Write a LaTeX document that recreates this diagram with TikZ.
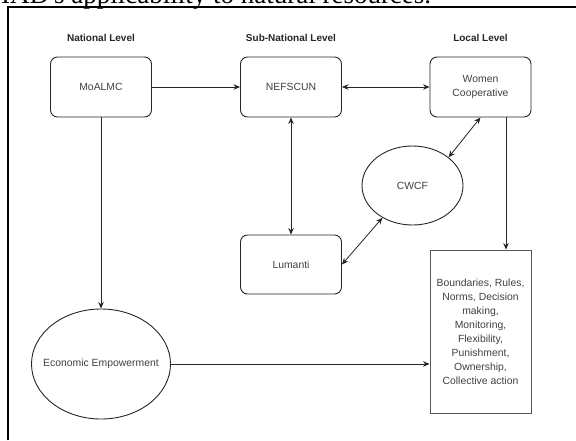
\documentclass[tikz,border=0pt]{standalone}
\usepackage{fontspec}
\setmainfont{Liberation Sans}
\newfontfamily\captionserif{Liberation Serif}
\usetikzlibrary{arrows.meta,shapes.geometric,positioning}

\tikzset{
  lvl/.style={font=\bfseries\fontsize{10}{12}\selectfont, text=black!85},
  rbox/.style={draw=black!85, rounded corners=7pt, minimum width=101pt, minimum height=60pt, inner sep=2pt, align=center, line width=0.9pt},
  oval/.style={draw=black!85, ellipse, inner sep=0pt, line width=0.9pt},
  conn/.style={line width=0.8pt, draw=black!85, -{Stealth[length=6.5pt,width=5.5pt]}},
  bothway/.style={conn, {Stealth[length=6.5pt,width=5.5pt]}-{Stealth[length=6.5pt,width=5.5pt]}},
}

\begin{document}
\begin{tikzpicture}[x=1pt, y=-1pt, font=\fontsize{10.4}{14}\selectfont, every node/.append style={text=black!75}]
		%%%%% START %%%%%
		\useasboundingbox (0,0) rectangle (576,440);
		\clip (0,0) rectangle (576,440);
		
		% caption line cut off by the page edge
		\node[anchor=base west, font=\captionserif\fontsize{27}{30}\selectfont, text=black, inner sep=0pt] (cap) at (1,3.5) {IAD's applicability to natural resources.};
		\draw[line width=1.2pt] (8,440) -- (8,7) -- (576,7);
		
		\node[lvl] (natl) at (101,38) {National Level};
		\node[lvl] (subnatl) at (291,38) {Sub-National Level};
		\node[lvl] (local) at (480.5,38) {Local Level};
		
		\node[rbox] (moalmc) at (101,87) {MoALMC};
		\node[rbox] (nefscun) at (291,87) {NEFSCUN};
		\node[rbox] (wc) at (480.5,87) {Women\\Cooperative};
		
		\node[oval, minimum width=101pt, minimum height=79pt] (cwcf) at (412.5,185.5) {CWCF};
		\node[rbox, minimum height=59pt] (lumanti) at (291,264.5) {Lumanti};
		
		\node[oval, minimum width=139pt, minimum height=110pt, label=center:{Economic Empowerment}] (ee) at (101,364) {};
		\node[draw=black!65, line width=0.9pt, minimum width=101pt, minimum height=163pt, inner sep=0pt, align=center] (rules) at (480.5,331.5) {Boundaries, Rules,\\Norms, Decision\\making,\\Monitoring,\\Flexibility,\\Punishment,\\Ownership,\\Collective action};
		
		\draw[conn] (moalmc) -- (nefscun);
		\draw[bothway] (nefscun) -- (wc);
		\draw[bothway] (nefscun) -- (lumanti);
		\draw[bothway] (wc.south) -- (cwcf.38);
		\draw[bothway] (lumanti.east) -- (cwcf.227);
		\draw[conn] (moalmc) -- (ee);
		\draw[conn] (ee) -- (ee -| rules.west);
		\draw[conn] ([xshift=25.5pt]wc.south) -- ([xshift=25.5pt]wc.south |- rules.north);
		
		%%%%% END %%%%%
\end{tikzpicture}
\end{document}
